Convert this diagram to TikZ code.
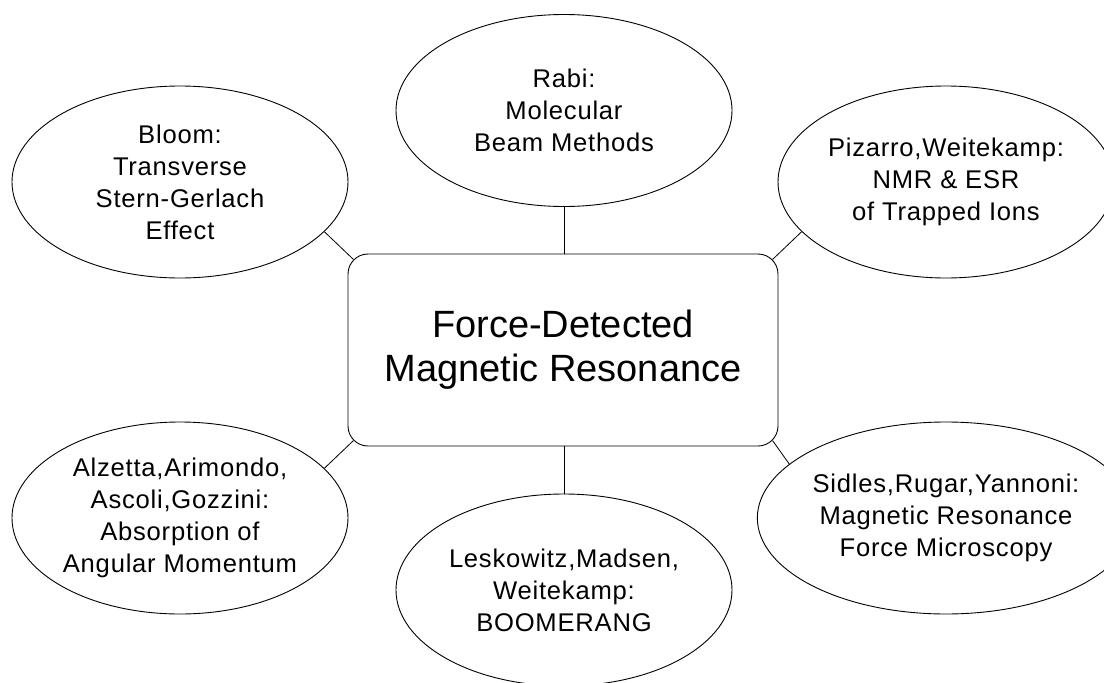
\documentclass[tikz,border=0pt]{standalone}
\usepackage{fontspec}
\setmainfont{Liberation Sans}
\newfontfamily\bubfont{Liberation Sans}[LetterSpace=3]
\usetikzlibrary{shapes.geometric}
\tikzset{
  bub/.style={ellipse, draw, line width=0.9pt, minimum width=336pt, minimum height=192pt,
    inner sep=0pt, align=center, font=\bubfont\fontsize{25.6}{32}\selectfont},
  mainbox/.style={rectangle, draw, line width=0.9pt, rounded corners=20pt, minimum width=430pt,
    minimum height=192pt, align=center, font=\fontsize{38}{44}\selectfont},
  conn/.style={draw, line width=0.8pt}
}
\begin{document}
\begin{tikzpicture}[x=1pt,y=-1pt]
\clip (0,0) rectangle (1104,683);
\node[mainbox] (main) at (563,350) {Force-Detected\\Magnetic Resonance};
\node[bub] (rabi) at (564,110.5) {Rabi:\\Molecular\\Beam Methods};
\node[bub] (bloom) at (180,182) {Bloom:\\Transverse\\Stern-Gerlach\\Effect};
\node[bub] (piz) at (946,182) {Pizarro,Weitekamp:\\NMR \& ESR\\of Trapped Ions};
\node[bub] (alz) at (180,518) {Alzetta,Arimondo,\\Ascoli,Gozzini:\\Absorption of\\Angular Momentum};
\node[bub] (les) at (564,590) {Leskowitz,Madsen,\\Weitekamp:\\BOOMERANG};
\node[bub] (sid) at (946,518) {Sidles,Rugar,Yannoni:\\Magnetic Resonance\\Force Microscopy};
\draw[conn] (rabi.south) -- (rabi.south |- main.north);
\draw[conn] (les.north) -- (les.north |- main.south);
\draw[conn] (bloom.-19) -- ([xshift=5.86pt,yshift=-5.86pt]main.north west);
\draw[conn] (piz.199) -- ([xshift=-5.86pt,yshift=-5.86pt]main.north east);
\draw[conn] (alz.19) -- ([xshift=5.86pt,yshift=5.86pt]main.south west);
\draw[conn] (sid.161) -- ([xshift=-5.86pt,yshift=5.86pt]main.south east);
\end{tikzpicture}
\end{document}
